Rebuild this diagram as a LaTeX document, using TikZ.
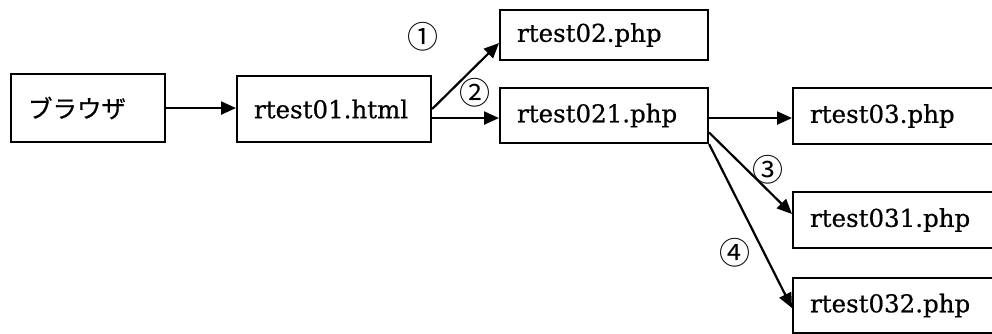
\documentclass[tikz,border=0pt]{standalone}
\usepackage{fontspec}
\setmainfont[FakeBold=0.6]{DejaVu Serif}
\newfontfamily\jpfont[FakeBold=0.6]{Noto Sans CJK JP}
\newfontfamily\numfont{Noto Sans CJK JP}
\usetikzlibrary{arrows.meta}
\tikzset{
  box/.style={draw, line width=2.1pt, anchor=north west, inner xsep=17pt, inner ysep=0pt, align=left,
              font=\fontsize{24.5}{28}\selectfont},
  conn/.style={line width=2.2pt, -{Triangle[length=15pt,width=13pt]}},
  num/.style={font=\numfont\fontsize{31}{33}\selectfont, inner sep=0pt}
}
\begin{document}
\begin{tikzpicture}[x=1pt,y=-1pt]
\useasboundingbox (0,0) rectangle (992,334);
\clip (0,0) rectangle (992,334);
\node[box, minimum width=154pt, minimum height=68pt, text width=120pt] (A) at (10,73) {\jpfont ブラウザ};
\node[box, minimum width=194pt, minimum height=66pt, text width=160pt] (B) at (236,75) {rtest01.html};
\node[box, minimum width=208pt, minimum height=50pt, text width=174pt] (C) at (499,9) {rtest02.php};
\node[box, minimum width=208pt, minimum height=55pt, text width=174pt] (D) at (499,87) {rtest021.php};
\node[box, minimum width=230pt, minimum height=56pt, text width=196pt] (E) at (792,87) {rtest03.php};
\node[box, minimum width=230pt, minimum height=56pt, text width=196pt] (F) at (792,191) {rtest031.php};
\node[box, minimum width=230pt, minimum height=55pt, text width=196pt] (G) at (792,277) {rtest032.php};
\draw[conn] (A.east) -- (A.east -| B.west);
\draw[conn] (B.east) -- ([yshift=-8pt]C.west);
\draw[conn] ([yshift=-9pt]B.east) -- ([yshift=-9pt]B.east -| D.west);
\draw[conn] ([yshift=-2.5pt]D.east) -- ([yshift=-2.5pt]D.east -| E.west);
\draw[conn] ([yshift=-17pt]D.east) -- ([yshift=6pt]F.west);
\draw[conn] (D.south east) -- ([yshift=-2.5pt]G.west);
\node[num] (n1) at (423,37) {①};
\node[num] (n2) at (475,93) {②};
\node[num] (n3) at (768,170) {③};
\node[num] (n4) at (735,253) {④};
\end{tikzpicture}
\end{document}
